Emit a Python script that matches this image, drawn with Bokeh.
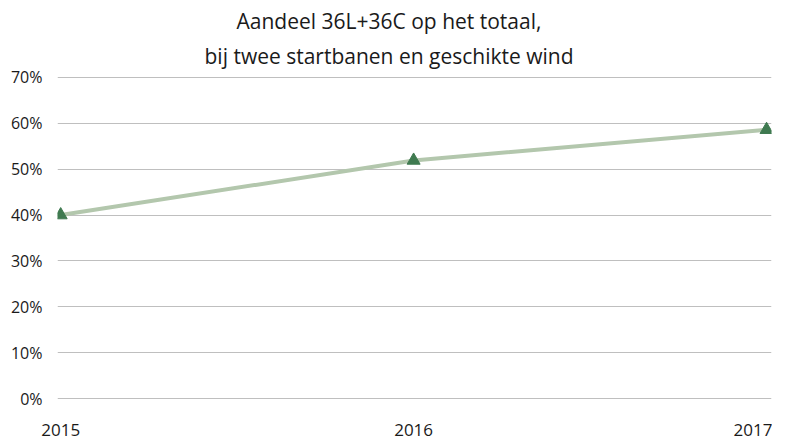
from bokeh.plotting import figure
from bokeh.models import Range1d, FixedTicker, NumeralTickFormatter, Title
from bokeh.embed import file_html
from bokeh.resources import INLINE

years = [2015, 2016, 2017]
share = [0.40, 0.519, 0.586]
y_ticks = [0.0, 0.1, 0.2, 0.3, 0.4, 0.5, 0.6, 0.7]
title_lines = ["Aandeel 36L+36C op het totaal,", "bij twee startbanen en geschikte wind"]

FONT = "Open Sans"

p = figure(width=772, height=439, output_backend="svg", toolbar_location=None,
           x_range=Range1d(2014.991, 2017.014), y_range=Range1d(-0.002, 0.702),
           min_border_left=57, min_border_right=1, min_border_top=76, min_border_bottom=40)
p.outline_line_color = None
p.background_fill_color = "white"
p.border_fill_color = "white"

p.xgrid.visible = False
p.ygrid.grid_line_color = "#bfbfbf"
p.ygrid.grid_line_width = 1
p.ygrid.ticker = FixedTicker(ticks=y_ticks)

for ax in (p.xaxis, p.yaxis):
    ax.axis_line_color = None
    ax.major_tick_line_color = None
    ax.minor_tick_line_color = None
    ax.major_tick_out = 0
    ax.major_tick_in = 0
    ax.minor_tick_out = 0
    ax.major_label_text_font = FONT
    ax.major_label_text_color = "#1a1a1a"

p.yaxis.ticker = FixedTicker(ticks=y_ticks)
p.yaxis.formatter = NumeralTickFormatter(format="0%")
p.yaxis.major_label_standoff = 15
p.yaxis.major_label_text_font_size = "16px"

p.xaxis.ticker = FixedTicker(ticks=years)
p.xaxis.major_label_standoff = 24
p.xaxis.major_label_text_font_size = "17px"

p.line(years, share, line_color="#b3c7ad", line_width=4)
p.scatter(years, share, marker="triangle", size=13, fill_color="#3f7a50", line_color="#3f7a50")

# titles: second line nearest to the frame
p.add_layout(Title(text=title_lines[1], align="left", offset=147, standoff=14,
                   text_font=FONT, text_font_size="21px", text_font_style="normal",
                   text_color="#1a1a1a"), "above")
p.add_layout(Title(text=title_lines[0], align="left", offset=179, standoff=-5,
                   text_font=FONT, text_font_size="21px", text_font_style="normal",
                   text_color="#1a1a1a"), "above")

open("out.html", "w").write(file_html(p, INLINE))
